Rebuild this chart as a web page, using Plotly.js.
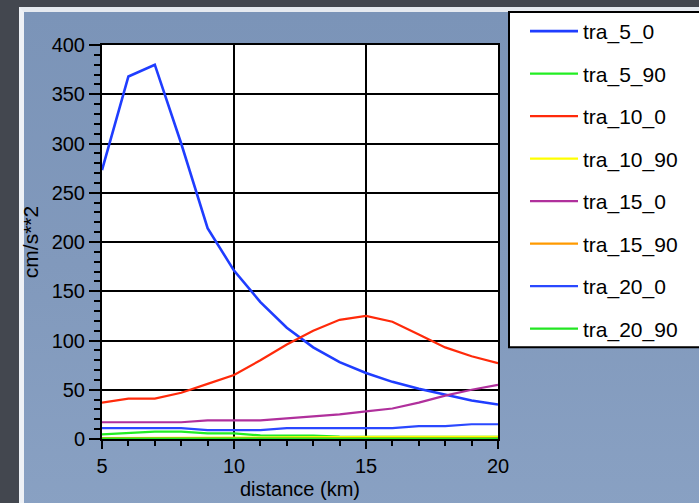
<!DOCTYPE html>
<html>
<head>
<meta charset="utf-8">
<script src="https://cdn.plot.ly/plotly-3.0.1.min.js"></script>
<style>
html,body{margin:0;padding:0;width:699px;height:503px;overflow:hidden;background:#43474f;}
#bg{position:absolute;left:19px;top:7px;width:690px;height:510px;box-sizing:border-box;
 border-left:5px solid #eef1f6;border-top:5px solid #e6eaf0;
 background:linear-gradient(180deg,#7b94b8 0%,#8199bc 50%,#89a1c3 100%);}
#chart{position:absolute;left:0;top:0;width:699px;height:503px;}
</style>
</head>
<body>
<div id="bg"></div>
<div id="chart"></div>
<script>
const distance = [5,6,7,8,9,10,11,12,13,14,15,16,17,18,19,20];
const tra_5_0   = [273,368,380,300,214,171,139,113,93,78,67,58,51,45,39,35];
const tra_5_90  = [4.7,6.4,7.4,7.4,5.7,5.7,3.6,3.4,3.4,2.4,2.3,2.3,2.3,2.3,2.3,2.3];
const tra_10_0  = [37,41,41,47,56,65,80,96,110,121,125,119,106,93,84,77];
const tra_10_90 = [1.0,1.0,1.0,1.0,1.2,1.3,1.5,1.8,2.1,2.3,2.3,2.3,2.3,2.3,2.3,2.3];
const tra_15_0  = [17,17,17,17,19,19,19,21,23,25,28,31,37,44,50,55];
const tra_15_90 = [0.6,0.6,0.6,0.6,0.6,0.6,0.6,0.7,0.8,0.8,0.8,0.8,0.8,0.8,0.8,0.8];
const tra_20_0  = [11,11,11,11,9,9,9,11,11,11,11,11,13,13,15,15];
const tra_20_90 = [0.3,0.3,0.3,0.3,0.3,0.3,0.3,0.3,0.3,0.3,0.3,0.3,0.3,0.3,0.3,0.3];

const seriesNames = ["tra_5_0","tra_5_90","tra_10_0","tra_10_90","tra_15_0","tra_15_90","tra_20_0","tra_20_90"];
const seriesValues = [tra_5_0,tra_5_90,tra_10_0,tra_10_90,tra_15_0,tra_15_90,tra_20_0,tra_20_90];
const seriesColors = ["#1f3dff","#22ee22","#ff2a0a","#ffff00","#b0309c","#ff9a00","#2a48ff","#22e622"];

const traces = seriesNames.map((n,i)=>({
  x: distance, y: seriesValues[i], name: n, type:'scatter', mode:'lines',
  line:{color:seriesColors[i], width: i===0?2.6:2.2},
  legendgroup: n
}));

const W=396, H=395;
function px(x){return (x-102)/W;}
function py(y){return (439-y)/H;}

const font = {family:"Liberation Sans, Arial, Helvetica, sans-serif", color:"#000"};

const layout = {
  width:699, height:503,
  margin:{l:102, r:201, t:44, b:64, pad:0},
  paper_bgcolor:'rgba(0,0,0,0)',
  plot_bgcolor:'#ffffff',
  font: Object.assign({size:20}, font),
  showlegend:true,
  legend:{
    x: px(525), xanchor:'left', y: py(11), yanchor:'top',
    bgcolor:'rgba(0,0,0,0)', borderwidth:0,
    font: Object.assign({size:21}, font),
    itemwidth: 48, traceorder:'grouped', tracegroupgap: 12.2,
    maxheight: 2000
  },
  xaxis:{
    range:[5,20], tickmode:'array', tickvals:[5,10,15,20],
    showline:true, linecolor:'#000', linewidth:2, mirror:true,
    showgrid:true, gridcolor:'#000', gridwidth:2, zeroline:false,
    ticks:'outside', ticklen:8, tickwidth:2, tickcolor:'#000',
    tickfont:Object.assign({size:20}, font),
    minor:{dtick:1, tick0:5, ticks:'outside', ticklen:5, tickwidth:2, tickcolor:'#000', showgrid:false},
    title:{text:'distance (km)', font:Object.assign({size:20}, font), standoff:6}
  },
  yaxis:{
    range:[0,400], tickmode:'linear', tick0:0, dtick:50,
    showline:true, linecolor:'#000', linewidth:2, mirror:true,
    showgrid:true, gridcolor:'#000', gridwidth:2, zeroline:false,
    ticks:'outside', ticklen:11, tickwidth:2, tickcolor:'#000',
    tickfont:Object.assign({size:20}, font),
    minor:{dtick:10, ticks:'outside', ticklen:6, tickwidth:2, tickcolor:'#000', showgrid:false},
    title:{text:'cm/s**2', font:Object.assign({size:21}, font), standoff:7}
  },
  shapes:[{
    type:'rect', xref:'paper', yref:'paper', layer:'below',
    x0:px(509), x1:px(705), y0:py(347), y1:py(11),
    fillcolor:'#ffffff', line:{color:'#000', width:2}
  }]
};

Plotly.newPlot('chart', traces, layout, {displayModeBar:false, staticPlot:true});
</script>
</body>
</html>
